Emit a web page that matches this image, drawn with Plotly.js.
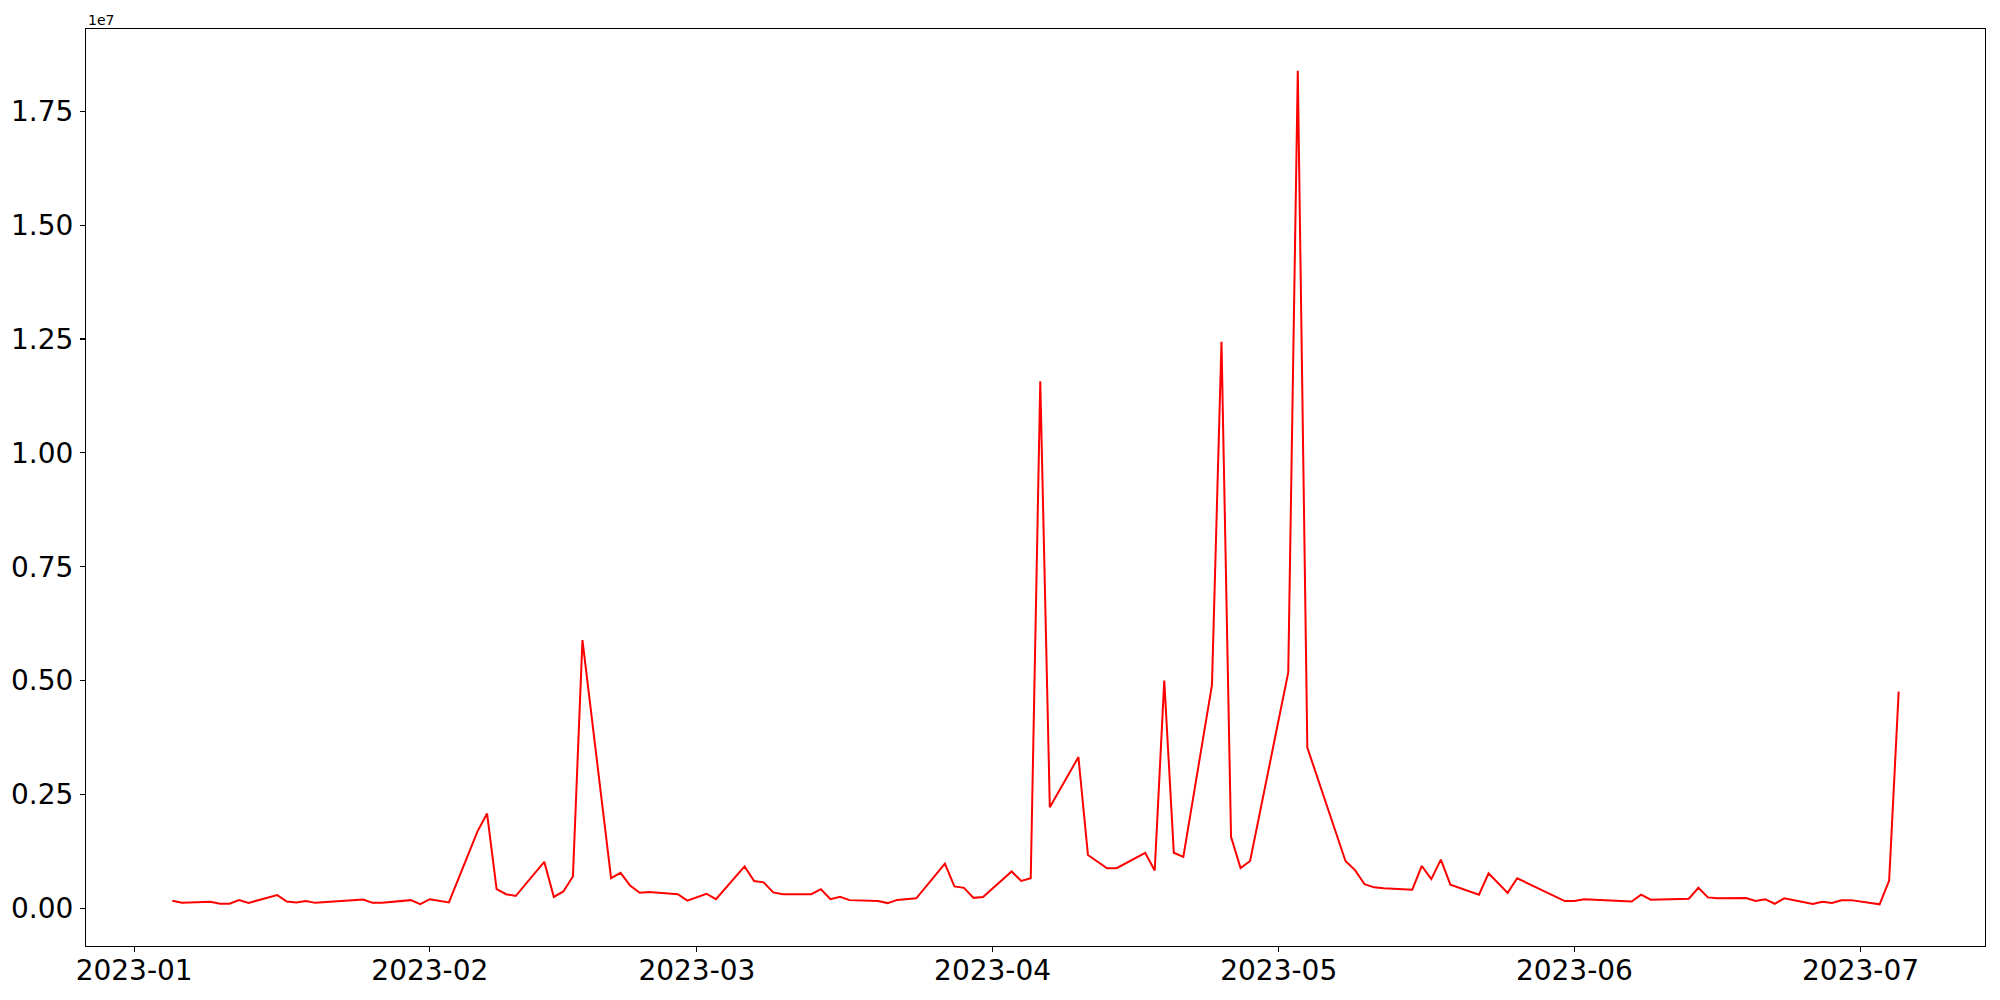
<!DOCTYPE html>
<html>
<head>
<meta charset="utf-8">
<script src="https://cdn.plot.ly/plotly-3.0.1.min.js"></script>
<style>
  html, body { margin: 0; padding: 0; background: #ffffff; }
  #chart { width: 2000px; height: 1000px; }
</style>
</head>
<body>
<div id="chart"></div>
<script>
// Dates of the observations
const dates = [
  "2023-01-05","2023-01-06","2023-01-09","2023-01-10","2023-01-11","2023-01-12","2023-01-13",
  "2023-01-16","2023-01-17","2023-01-18","2023-01-19","2023-01-20",
  "2023-01-25","2023-01-26","2023-01-27","2023-01-30","2023-01-31",
  "2023-02-01","2023-02-03","2023-02-06","2023-02-07","2023-02-08","2023-02-09","2023-02-10",
  "2023-02-13","2023-02-14","2023-02-15","2023-02-16","2023-02-17",
  "2023-02-20","2023-02-21","2023-02-22","2023-02-23","2023-02-24",
  "2023-02-27","2023-02-28","2023-03-02","2023-03-03",
  "2023-03-06","2023-03-07","2023-03-08","2023-03-09","2023-03-10",
  "2023-03-13","2023-03-14","2023-03-15","2023-03-16","2023-03-17",
  "2023-03-20","2023-03-21","2023-03-22","2023-03-24",
  "2023-03-27","2023-03-28","2023-03-29","2023-03-30","2023-03-31",
  "2023-04-03","2023-04-04","2023-04-05","2023-04-06","2023-04-07",
  "2023-04-10","2023-04-11","2023-04-13","2023-04-14",
  "2023-04-17","2023-04-18","2023-04-19","2023-04-20","2023-04-21",
  "2023-04-24","2023-04-25","2023-04-26","2023-04-27","2023-04-28",
  "2023-05-02","2023-05-03","2023-05-04",
  "2023-05-08","2023-05-09","2023-05-10","2023-05-11","2023-05-12",
  "2023-05-15","2023-05-16","2023-05-17","2023-05-18","2023-05-19",
  "2023-05-22","2023-05-23","2023-05-24","2023-05-25","2023-05-26",
  "2023-05-31","2023-06-01","2023-06-02",
  "2023-06-07","2023-06-08","2023-06-09",
  "2023-06-13","2023-06-14","2023-06-15","2023-06-16",
  "2023-06-19","2023-06-20","2023-06-21","2023-06-22","2023-06-23",
  "2023-06-26","2023-06-27","2023-06-28","2023-06-29","2023-06-30",
  "2023-07-03","2023-07-04","2023-07-05"
];

// Values (raw units)
const values = [
  167000,123000,145000,100000,100000,180000,120000,
  290000,150000,130000,160000,120000,
  195000,120000,120000,180000,90000,
  200000,130000,1690000,2080000,420000,310000,270000,
  1020000,250000,370000,700000,5890000,
  665000,780000,500000,340000,360000,
  310000,170000,320000,200000,
  920000,600000,570000,350000,310000,
  310000,420000,200000,255000,180000,
  160000,115000,185000,220000,
  980000,480000,450000,230000,250000,
  810000,600000,660000,11570000,2220000,
  3320000,1170000,880000,880000,
  1220000,830000,5000000,1220000,1130000,
  4900000,12440000,1570000,885000,1040000,
  5180000,18390000,3530000,
  1040000,840000,530000,460000,440000,
  410000,930000,640000,1070000,520000,
  300000,770000,550000,340000,660000,
  160000,160000,200000,
  150000,300000,190000,
  210000,450000,240000,220000,
  226000,160000,200000,100000,220000,
  94000,145000,116000,175000,180000,
  88000,610000,4760000
];

// Axis ticks
const yTickVals = [0, 2500000, 5000000, 7500000, 10000000, 12500000, 15000000, 17500000];
const yTickText = yTickVals.map(v => (v / 1e7).toFixed(2));
const offsetText = "1e7";

// matplotlib-like 5% margins
const t0 = new Date(dates[0] + "T00:00:00Z").getTime();
const t1 = new Date(dates[dates.length - 1] + "T00:00:00Z").getTime();
const padX = (t1 - t0) * 0.05;
const fmt = t => new Date(t).toISOString().replace("T", " ").slice(0, 19);
const vMin = Math.min(...values), vMax = Math.max(...values);
const padY = (vMax - vMin) * 0.05;

const trace = {
  x: dates,
  y: values,
  type: "scatter",
  mode: "lines",
  line: { color: "#ff0000", width: 2 },
  hoverinfo: "skip"
};

const font = { family: "DejaVu Sans, sans-serif", size: 28, color: "#000000" };

const layout = {
  width: 2000,
  height: 1000,
  margin: { l: 86, r: 15, t: 29, b: 54, pad: 0 },
  paper_bgcolor: "#ffffff",
  plot_bgcolor: "#ffffff",
  showlegend: false,
  font: font,
  xaxis: {
    type: "date",
    range: [fmt(t0 - padX), fmt(t1 + padX)],
    tick0: "2023-01-01",
    dtick: "M1",
    tickformat: "%Y-%m",
    ticks: "outside",
    ticklen: 5,
    tickwidth: 1.1,
    tickcolor: "#000000",
    showgrid: false,
    zeroline: false,
    showline: true,
    mirror: true,
    linecolor: "#000000",
    linewidth: 1.1,
    tickfont: font,
    ticklabelstandoff: -6
  },
  yaxis: {
    range: [vMin - padY, vMax + padY],
    tickmode: "array",
    tickvals: yTickVals,
    ticktext: yTickText,
    ticks: "outside",
    ticklen: 5,
    tickwidth: 1.1,
    tickcolor: "#000000",
    showgrid: false,
    zeroline: false,
    showline: true,
    mirror: true,
    linecolor: "#000000",
    linewidth: 1.1,
    tickfont: font,
    ticklabelstandoff: 1
  },
  annotations: [{
    text: offsetText,
    xref: "paper", yref: "paper",
    x: 0, y: 1,
    xanchor: "left", yanchor: "bottom",
    yshift: -1,
    showarrow: false,
    font: { family: "DejaVu Sans, sans-serif", size: 14, color: "#000000" }
  }]
};

Plotly.newPlot("chart", [trace], layout, { displayModeBar: false, staticPlot: true });
</script>
</body>
</html>
